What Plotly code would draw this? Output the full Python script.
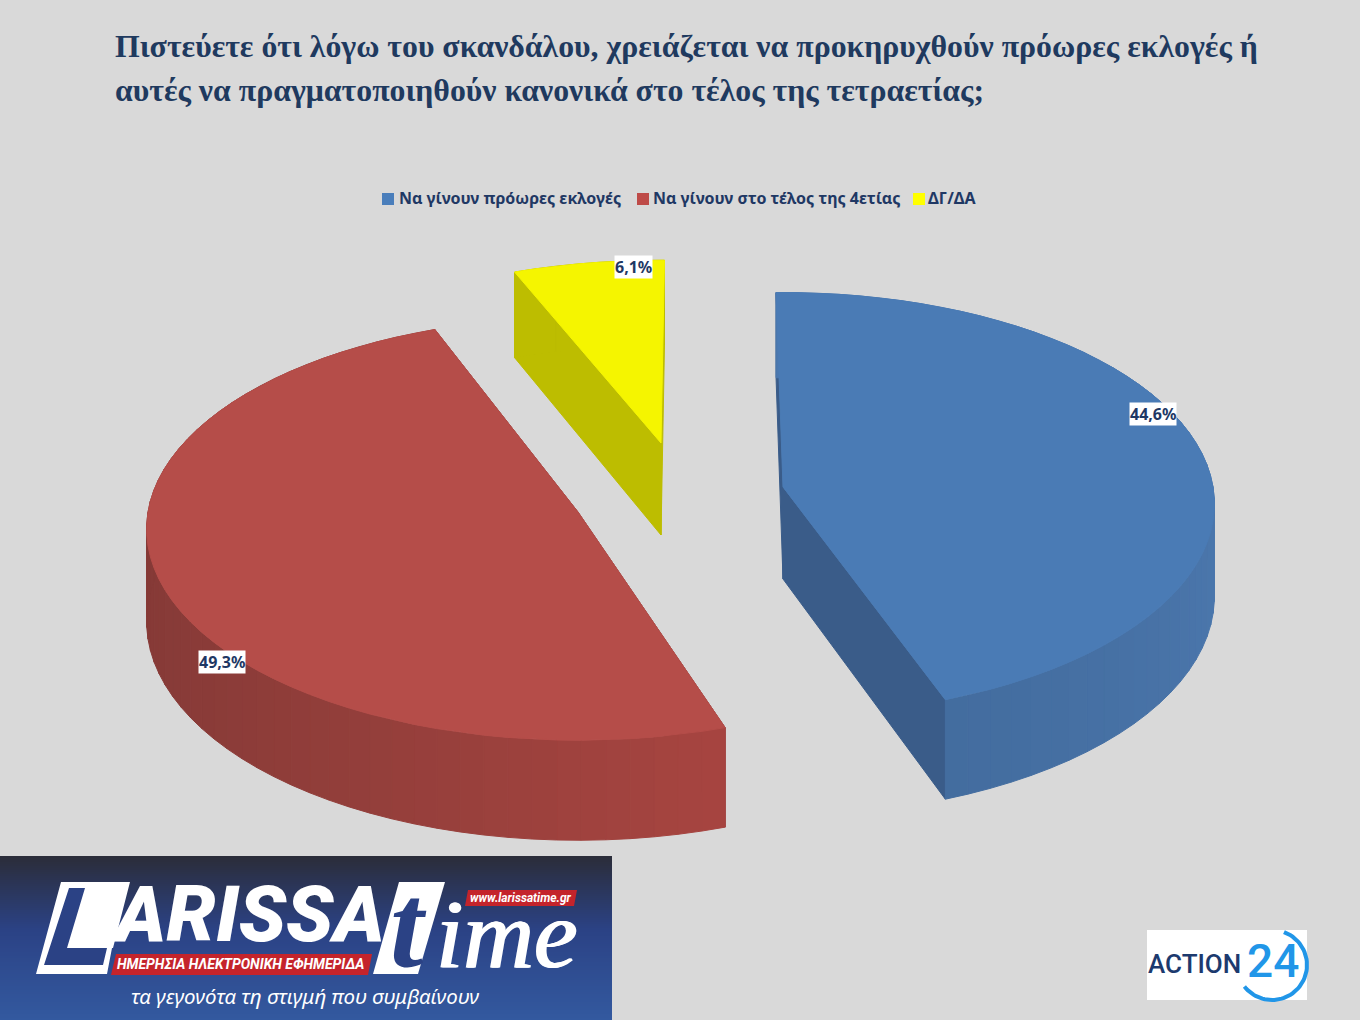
import math
import plotly.graph_objects as go

# ---------- data ----------
categories = ["Να γίνουν πρόωρες εκλογές", "Να γίνουν στο τέλος της 4ετίας", "ΔΓ/ΔΑ"]
shares = [44.6, 49.3, 6.1]
labels = ["44,6%", "49,3%", "6,1%"]
title_lines = ["Πιστεύετε ότι λόγω του σκανδάλου, χρειάζεται να προκηρυχθούν πρόωρες εκλογές ή",
               "αυτές να πραγματοποιηθούν κανονικά στο τέλος της τετραετίας;"]

# ---------- styling / geometry of the projected pie ----------
top_colors = ["#4A7BB5", "#B54D49", "#F5F500"]
legend_colors = ["#4A7EBB", "#BE4B48", "#FFFF00"]
cut_colors = ["#3A5C89", "#8A3A37", "#BDBD00"]
wall_near = ["#3D6594", "#863A37", "#BDBD00"]
wall_far = ["#4C78AE", "#B84A45", "#BDBD00"]
apex = [(783, 487), (578, 512), (661, 443)]
view_nudge = [0, 2, 1.5]
ry_scale = [1.0, 1.0, 0.94]
label_xy = [(1153, 414), (222, 662), (633, 267)]
legend_x = [(382, 397), (637, 651), (913, 926)]
RX, RY, K, DEPTH, START = 430, 210, 0.08, 92, -1.0
INK = "#1F3864"


def project(ax, ay, theta, z=0.0, scale=1.0):
    t = math.radians(theta)
    u, v = math.sin(t), -math.cos(t)
    s = 1 / (1 - K * v)
    return ax + RX * u * s, ay + (RY * scale * v + z) * s


def hex2rgb(h):
    return tuple(int(h[i:i + 2], 16) for i in (1, 3, 5))


def mix(a, b, f):
    ca, cb = hex2rgb(a), hex2rgb(b)
    return "rgb(%d,%d,%d)" % tuple(round(x + (y - x) * f) for x, y in zip(ca, cb))


fig = go.Figure()


def poly(pts, color, line=None):
    fig.add_trace(go.Scatter(x=[p[0] for p in pts] + [pts[0][0]], y=[p[1] for p in pts] + [pts[0][1]],
                             mode="lines", fill="toself", fillcolor=color,
                             line=dict(color=line or color, width=1),
                             showlegend=False, hoverinfo="skip"))


angles = []
acc = START
for sh, nudge in zip(shares, view_nudge):
    angles.append((acc + nudge, acc + nudge + sh * 3.6))
    acc += sh * 3.6

for i in (2, 1, 0):
    a0, a1 = angles[i]
    ax, ay = apex[i]
    sc = ry_scale[i]
    n = max(int((a1 - a0) / 3), 4)
    th = [a0 + (a1 - a0) * j / n for j in range(n + 1)]
    # cut faces
    for a in (a0, a1):
        poly([(ax, ay), project(ax, ay, a, 0, sc), project(ax, ay, a, DEPTH, sc), (ax, ay + DEPTH)], cut_colors[i])
    # outer wall strips, shaded
    for j in range(n):
        mid = (th[j] + th[j + 1]) / 2
        f = min(max((math.sin(math.radians(mid)) + 1) / 2, 0), 1)
        col = mix(wall_near[i], wall_far[i], f)
        if i == 0:
            col = mix(wall_far[0], wall_near[0], max(0, (mid - 90) / 70) * 0.6)
        poly([project(ax, ay, th[j], 0, sc), project(ax, ay, th[j + 1], 0, sc),
              project(ax, ay, th[j + 1], DEPTH, sc), project(ax, ay, th[j], DEPTH, sc)], col)
    # top face
    poly([(ax, ay)] + [project(ax, ay, t, 0, sc) for t in th], top_colors[i])

shapes = []
# banner gradient
N = 82
for j in range(N):
    f = j / (N - 1)
    col = mix("#2B2D3A", "#2B4285", f / 0.45) if f < 0.45 else mix("#2B4285", "#33599F", (f - 0.45) / 0.55)
    y0 = 856 + j * 2
    shapes.append(dict(type="rect", x0=0, x1=612, y0=y0, y1=y0 + 2.5, fillcolor=col, line_width=0, layer="below"))
# logo pieces
shapes += [
    dict(type="path", path="M 61 882 L 130 882 L 113 948 L 112 948 L 107 974 L 36 974 Z", fillcolor="white", line_width=0),
    dict(type="path", path="M 69 888 L 85 888 L 67 948 L 107 948 L 103 965 L 44 965 Z", fillcolor="#2B4285", line_width=0),
    dict(type="path", path="M 399 882 L 445 882 L 418 974 L 373 974 Z", fillcolor="white", line_width=0),
    dict(type="path", path="M 116 954 L 372 954 L 368 975 L 111 975 Z", fillcolor="#C4242B", line_width=0),
    dict(type="path", path="M 468 890 L 577 890 L 574 906 L 465 906 Z", fillcolor="#C4242B", line_width=0),
    dict(type="rect", x0=1147, x1=1307, y0=930, y1=1000, fillcolor="white", line_width=0, layer="below"),
]

ann = []
for line, y in zip(title_lines, (46, 90)):
    ann.append(dict(x=113, y=y, text=line, showarrow=False, xanchor="left", yanchor="middle",
                    font=dict(family="Liberation Serif", size=31.8, color="#1F3A5F", weight="bold")))
for lab, (x, y) in zip(labels, label_xy):
    ann.append(dict(x=x, y=y, text=lab, showarrow=False, bgcolor="white", borderpad=0,
                    font=dict(family="Noto Sans", size=16, color=INK, weight="bold")))
for c, col, (sx, tx) in zip(categories, legend_colors, legend_x):
    shapes.append(dict(type="rect", x0=sx, x1=sx + 12, y0=193, y1=205, fillcolor=col, line_width=0))
    ann.append(dict(x=tx, y=198, text=c, showarrow=False, xanchor="left",
                    font=dict(family="Noto Sans", size=16, color=INK, weight="bold")))
ann += [
    dict(x=108, y=914, text="<i>ARISSA</i>", showarrow=False, xanchor="left",
         font=dict(family="Roboto", size=78, color="white", weight=900)),
    dict(x=408, y=925, text="<b><i>t</i></b>", showarrow=False,
         font=dict(family="Liberation Serif", size=120, color="#2B4285")),
    dict(x=434, y=934, text="<i>ime</i>", showarrow=False, xanchor="left",
         font=dict(family="Liberation Serif", size=98, color="white",
                   shadow="1px 0 0 white, -1px 0 0 white")),
    dict(x=241, y=964, text="<b><i>ΗΜΕΡΗΣΙΑ ΗΛΕΚΤΡΟΝΙΚΗ ΕΦΗΜΕΡΙΔΑ</i></b>", showarrow=False,
         font=dict(family="Roboto", size=14, color="white")),
    dict(x=521, y=898, text="<b><i>www.larissatime.gr</i></b>", showarrow=False,
         font=dict(family="Roboto", size=12, color="white")),
    dict(x=305, y=996, text="<i>τα γεγονότα τη στιγμή που συμβαίνουν</i>", showarrow=False,
         font=dict(family="Noto Sans", size=20.5, color="white")),
    dict(x=1146, y=964, text="ACTION", showarrow=False, xanchor="left",
         font=dict(family="Roboto", size=26, color="#1C3A6E", weight=500)),
    dict(x=1273, y=961, text="24", showarrow=False,
         font=dict(family="Roboto", size=46, color="#2196E8", weight=500)),
]

# Action 24 ring
ring = [20 + j * 4 for j in range(54)]
fig.add_trace(go.Scatter(x=[1272 + 35 * math.sin(math.radians(a)) for a in ring],
                         y=[965 - 35 * math.cos(math.radians(a)) for a in ring],
                         mode="lines", line=dict(color="#2196E8", width=4),
                         showlegend=False, hoverinfo="skip"))

fig.update_layout(
    width=1360, height=1020, margin=dict(l=0, r=0, t=0, b=0), showlegend=False,
    paper_bgcolor="#D9D9D9", plot_bgcolor="#D9D9D9",
    xaxis=dict(range=[0, 1360], visible=False, fixedrange=True),
    yaxis=dict(range=[1020, 0], visible=False, fixedrange=True),
    shapes=shapes, annotations=ann,
)
fig.write_html("out.html", config=dict(displayModeBar=False),
               post_script="document.body.style.margin='0';document.body.style.background='#D9D9D9';")
